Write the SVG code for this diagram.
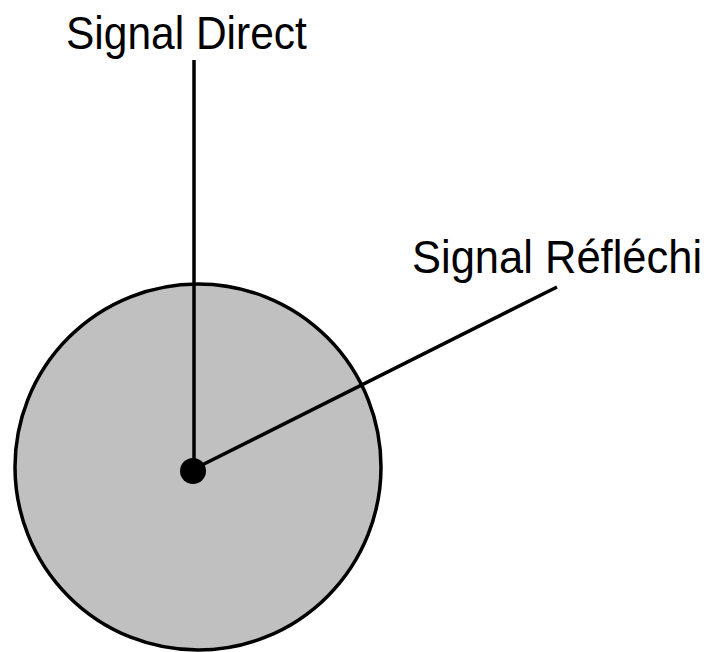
<svg xmlns="http://www.w3.org/2000/svg" width="713" height="652" viewBox="0 0 713 652">
<style>
.lbl{font-family:"Liberation Sans",Arial,sans-serif;fill:#000}
.ln{stroke:#000;stroke-width:3.5;fill:none}
</style>
<rect width="713" height="652" fill="#fff"/>
<g id="zone">
<circle cx="198" cy="467" r="183" fill="#c0c0c0" stroke="#000" stroke-width="3.5"/>
</g>
<g id="connectors">
<line class="ln" x1="194" y1="60" x2="194" y2="470"/>
<line class="ln" x1="200" y1="466" x2="557" y2="287"/>
</g>
<g id="receiver">
<circle cx="193" cy="471" r="13" fill="#000"/>
</g>
<g id="label-direct">
<text class="lbl" font-size="42.5" transform="translate(66,49) scale(1,1.1)">Signal Direct</text>
</g>
<g id="label-reflechi">
<text class="lbl" font-size="43.5" transform="translate(412,273) scale(1,1.08)">Signal Réfléchi</text>
</g>
</svg>
